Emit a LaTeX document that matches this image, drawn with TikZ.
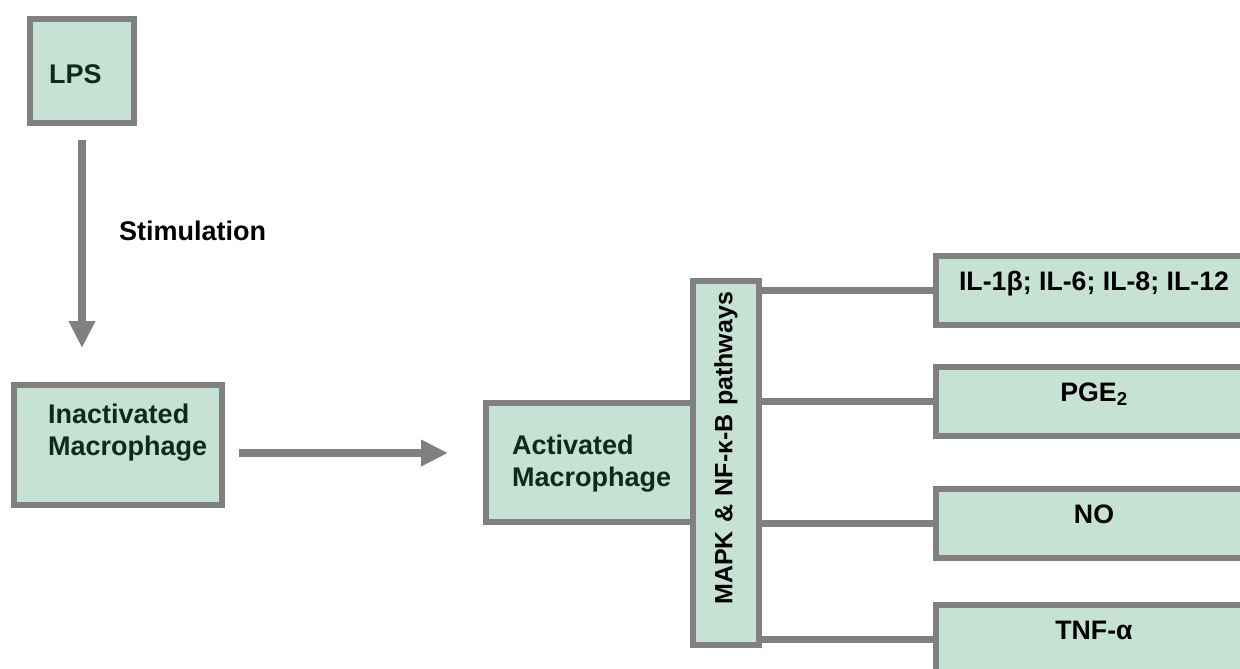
\documentclass[tikz,border=0pt]{standalone}
\usepackage{fontspec}
\setmainfont{Liberation Sans}
\usepackage{tikz}
\usetikzlibrary{positioning,arrows.meta}
\definecolor{boxfill}{RGB}{198,226,212}
\definecolor{boxline}{RGB}{128,128,128}
\definecolor{txtgreen}{RGB}{16,42,26}

\begin{document}
\begin{tikzpicture}[
    x=1pt, y=-1pt,
    font=\fontsize{27}{32}\selectfont\bfseries,
    b/.style={draw=boxline, fill=boxfill, line width=6pt, inner sep=0pt},
    lt/.style={anchor=north west, inner sep=0pt, align=left, text=txtgreen},
    rb/.style={b, minimum width=316pt, minimum height=69pt, text height=19pt, text depth=19pt,
        font=\fontsize{26.7}{32}\selectfont\bfseries},
    fl/.style={draw=boxline, line width=8pt, -{Triangle[length=27pt, width=25pt]}},
    ln/.style={draw=boxline, line width=6.5pt},
]
    \useasboundingbox (0,0) rectangle (1240,669);
    \clip (0,0) rectangle (1240,669);
    \node[b, minimum width=104pt, minimum height=104pt] (lps) at (82,71) {};
    \node[lt] (lpst) at ([xshift=22pt, yshift=-48pt]lps.north west) {LPS};
    \node[b, minimum width=208pt, minimum height=120pt] (inact) at (118,445) {};
    \node[lt] (inactt) at ([xshift=37pt, yshift=-22pt]inact.north west) {Inactivated\\Macrophage};
    \node[b, minimum width=214pt, minimum height=119pt] (act) at (593,462.5) {};
    \node[lt] (actt) at ([xshift=29pt, yshift=-35pt]act.north west) {Activated\\Macrophage};
    \node[b, rotate=90, minimum width=364pt, minimum height=66pt, text width=342pt, align=right,
        font=\fontsize{25}{30}\selectfont\bfseries] (mapk) at (726,463) {MAPK \& NF-κ-B pathways};
    \node[rb] (il) at (1094,290.5) {IL-1β; IL-6; IL-8; IL-12};
    \node[rb] (pge) at (1094,401.5) {PGE\textsubscript{2}};
    \node[rb] (no) at (1094,523.5) {NO};
    \node[rb] (tnf) at (1094,639.5) {TNF-α};
    \node[anchor=base west, inner sep=0pt] (stim) at (119,240) {Stimulation};
    \draw[fl] ([yshift=-14pt]lps.south) -- ([yshift=34pt]lps.south |- inact.north);
    \coordinate (h) at ([xshift=14pt, yshift=-8pt]inact.east);
    \draw[fl, shorten >=35pt] (h) -- (h -| act.west);
    \draw[ln] (mapk.south |- il.west) -- (il.west);
    \draw[ln] (mapk.south |- pge.west) -- (pge.west);
    \draw[ln] (mapk.south |- no.west) -- (no.west);
    \draw[ln] (mapk.south |- tnf.west) -- (tnf.west);
\end{tikzpicture}
\end{document}
